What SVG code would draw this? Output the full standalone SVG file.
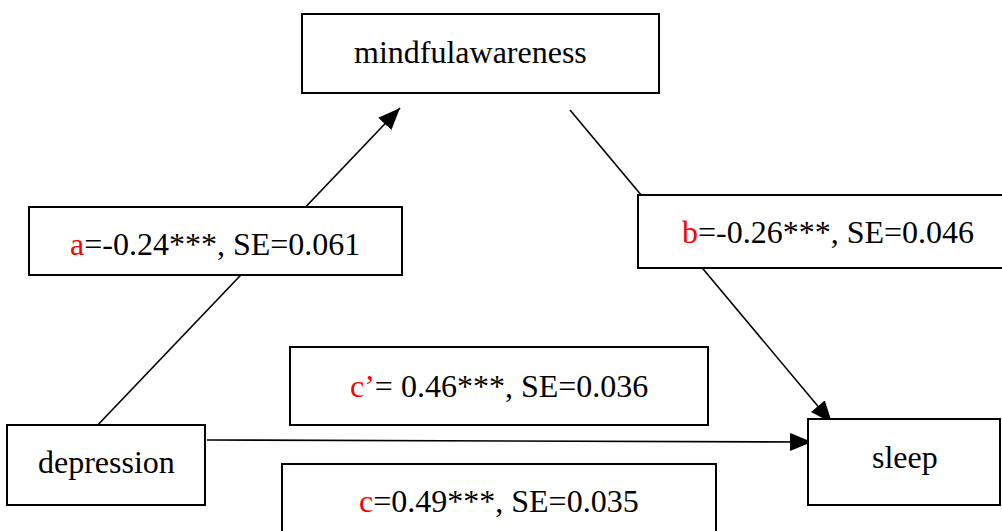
<svg xmlns="http://www.w3.org/2000/svg" width="1002" height="531" viewBox="0 0 1002 531">
<style>
.box{fill:#fff;stroke:#000;stroke-width:2}
.r{fill:#ff0000}
.c{fill:none;stroke:#000;stroke-width:1.6}
</style>
<defs>
<marker id="ah" markerUnits="userSpaceOnUse" markerWidth="22" markerHeight="18" refX="22" refY="9" orient="auto">
<path d="M0,0 L22,9 L0,18 z" fill="#000"/>
</marker>
</defs>
<rect width="1002" height="531" fill="#fff"/>
<g id="connectors">
<line class="c" x1="93" y1="430" x2="400" y2="108" marker-end="url(#ah)"/>
<line class="c" x1="570" y1="110" x2="832" y2="423" marker-end="url(#ah)"/>
<line class="c" x1="207" y1="440" x2="812" y2="442" marker-end="url(#ah)"/>
</g>
<g id="mindful">
<rect class="box" x="302" y="14" width="357" height="79"/>
<text x="354" y="63" font-size="32" font-family="Liberation Serif">mindfulawareness</text>
</g>
<g id="depression">
<rect class="box" x="7" y="425" width="198" height="80"/>
<text x="38" y="473" font-size="32" font-family="Liberation Serif">depression</text>
</g>
<g id="sleep">
<rect class="box" x="808" y="419" width="192" height="86"/>
<text x="872" y="468" font-size="32" font-family="Liberation Serif">sleep</text>
</g>
<g id="label-a">
<rect class="box" x="29" y="207" width="373" height="68"/>
<text x="70" y="255" font-size="32" font-family="Liberation Serif"><tspan class="r">a</tspan>=-0.24***, SE=0.061</text>
</g>
<g id="label-b">
<rect class="box" x="638" y="195" width="372" height="73"/>
<text x="682" y="243" font-size="32" font-family="Liberation Serif"><tspan class="r">b</tspan>=-0.26***, SE=0.046</text>
</g>
<g id="label-cprime">
<rect class="box" x="290" y="347" width="418" height="78"/>
<text x="350" y="397" font-size="32" font-family="Liberation Serif"><tspan class="r">c’</tspan>= 0.46***, SE=0.036</text>
</g>
<g id="label-c">
<rect class="box" x="282" y="464" width="434" height="80"/>
<text x="359" y="512" font-size="32" font-family="Liberation Serif"><tspan class="r">c</tspan>=0.49***, SE=0.035</text>
</g>
</svg>
